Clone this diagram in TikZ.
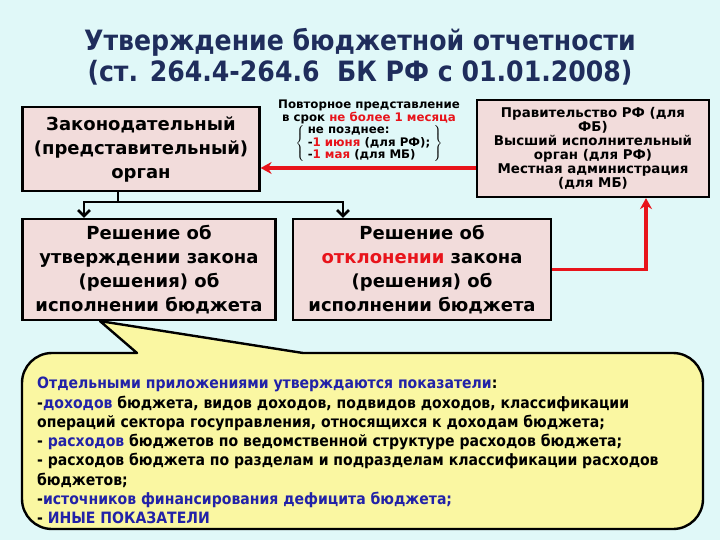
\documentclass[tikz,border=0pt]{standalone}
\usepackage{fontspec}
\setmainfont{DejaVu Sans}
\newfontfamily\condfont{DejaVu Sans Condensed}
\usetikzlibrary{arrows.meta}
\definecolor{bgcyan}{HTML}{E0F8F8}
\definecolor{boxpink}{HTML}{F2DCDB}
\definecolor{noteyellow}{HTML}{FAF7A2}
\definecolor{titlenavy}{HTML}{1F2D5C}
\definecolor{textblue}{HTML}{2222A8}
\definecolor{arrowred}{HTML}{E8141B}
\newcommand{\rd}[1]{\textcolor{arrowred}{#1}}
\newcommand{\bl}[1]{\textcolor{textblue}{#1}}

\begin{document}
\begin{tikzpicture}[x=1pt,y=1pt,
	box/.style={draw=black, line width=2.2pt, fill=boxpink, align=center, inner sep=0pt},
	flow/.style={line width=2.6pt, -{Straight Barb[length=6pt,width=12pt]}},
	redflow/.style={draw=arrowred, line width=3.6pt, -{Stealth[length=11pt,width=12pt]}}]
	\fill[bgcyan] (0,0) rectangle (720,-540);
	\useasboundingbox (0,0) rectangle (720,-540);

	\node[text=titlenavy, align=center, font=\condfont\bfseries\fontsize{28}{31}\selectfont] (title) at (360,-57)
		{Утверждение бюджетной отчетности\\(ст. 264.4-264.6 \ БК РФ с 01.01.2008)};

	\node[box, minimum width=237pt, minimum height=84pt, font=\bfseries\fontsize{18}{24}\selectfont] (legis) at (141,-149)
		{Законодательный\\(представительный)\\орган};
	\node[box, minimum width=232pt, minimum height=97pt, font=\bfseries\fontsize{13.4}{14}\selectfont] (gov) at (593,-148.5)
		{Правительство РФ (для\\ФБ)\\Высший исполнительный\\орган (для РФ)\\Местная администрация\\(для МБ)};
	\node[box, minimum width=253pt, minimum height=101pt, font=\bfseries\fontsize{18}{24}\selectfont] (approve) at (149,-269.5)
		{Решение об\\утверждении закона\\(решения) об\\исполнении бюджета};
	\node[box, minimum width=258pt, minimum height=101pt, font=\bfseries\fontsize{18}{24}\selectfont] (reject) at (422,-269.5)
		{Решение об\\\rd{отклонении} закона\\(решения) об\\исполнении бюджета};

	\node[align=center, font=\bfseries\fontsize{11.8}{11}\selectfont] (term) at (369,-131)
		{Повторное представление\\в срок \rd{не более 1 месяца}\\[1pt]
		$\left\{\rule[-15pt]{0pt}{34pt}\;\begin{tabular}{@{}l@{}}не позднее:\\-\rd{1 июня} (для РФ);\\-\rd{1 мая} (для МБ)\end{tabular}\;\right\}$};

	% ветвление решения
	\coordinate (split) at (118,-202);
	\draw[line width=2.6pt] (split |- legis.south) -- (split);
	\draw[flow] (split) -| ([xshift=-65pt]approve.north);
	\draw[flow] (split) -| ([xshift=-79pt]reject.north);

	\draw[redflow] (reject.east) -| ([xshift=53pt]gov.south);
	\draw[redflow] ([yshift=-19pt]legis.east -| gov.west) -- ([yshift=-19pt]legis.east);

	\coordinate (tip) at ([xshift=-49pt]approve.south);
	\draw[fill=noteyellow, line width=2.4pt, line join=round] (tip) -- (303,-353) -- (673,-353)
		arc[start angle=90, end angle=0, radius=30] -- (703,-499)
		arc[start angle=0, end angle=-90, radius=30] -- (52,-529)
		arc[start angle=270, end angle=180, radius=30] -- (22,-383)
		arc[start angle=180, end angle=90, radius=30] -- (137,-353) -- cycle;

	\node[anchor=north west, align=left, inner sep=0pt, font=\condfont\bfseries\fontsize{15.6}{19.3}\selectfont] (list) at (37,-377)
		{\bl{Отдельными приложениями утверждаются показатели}:\\
		-\bl{доходов} бюджета, видов доходов, подвидов доходов, классификации\\
		операций сектора госуправления, относящихся к доходам бюджета;\\
		- \bl{расходов} бюджетов по ведомственной структуре расходов бюджета;\\
		- расходов бюджета по разделам и подразделам классификации расходов\\
		бюджетов;\\
		-\bl{источников финансирования дефицита бюджета;}\\
		- \bl{ИНЫЕ ПОКАЗАТЕЛИ}};
\end{tikzpicture}
\end{document}
